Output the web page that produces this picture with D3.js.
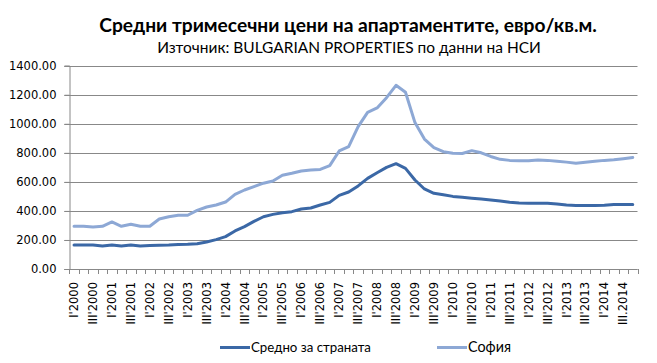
<!DOCTYPE html>
<html>
<head>
<meta charset="utf-8">
<script src="https://cdn.jsdelivr.net/npm/d3@7"></script>
<style>
  html, body { margin: 0; padding: 0; background: #fff; }
  svg { display: block; }
</style>
</head>
<body>
<svg id="chart" width="657" height="363"></svg>
<script>
const title = "Средни тримесечни цени на апартаментите, евро/кв.м.";
const subtitle = "Източник: BULGARIAN PROPERTIES по данни на НСИ";
const seriesNames = ["Средно за страната", "София"];
const years = d3.range(2000, 2015);
const romans = ["I", "II", "III", "IV"];
const quarters = [];
years.forEach(yr => romans.forEach(r => quarters.push(r + "'" + yr)));
// tick labels shown (every second quarter)
const tickLabels = quarters.map((q, i) => i === 58 ? "III.2014" : q);
const countryAvg = [165,165,165,158,165,158,165,158,162,164,
  165,168,170,174,186,202,223,262,292,328,
  360,376,388,395,413,420,441,459,507,530,
  572,624,663,700,725,693,613,551,521,512,
  500,494,488,482,475,468,460,455,453,453,
  452,447,440,438,438,438,439,444,445,445];
const sofia = [294,294,289,294,324,294,308,294,294,344,
  360,370,370,404,427,441,461,514,544,567,
  591,606,645,659,675,682,686,712,813,843,
  980,1079,1109,1180,1265,1217,1008,895,836,808,
  797,795,815,800,775,755,748,745,745,750,
  748,742,736,728,735,742,748,752,760,768];
const yTicks = [0,200,400,600,800,1000,1200,1400];
const colors = ["#3b68a6", "#8da8d5"];

const svg = d3.select("#chart");
const pLeft = 69.3, pRight = 637.5, pTop = 65.7, pBottom = 269;

const x = d3.scaleBand().domain(quarters).range([pLeft, pRight]).paddingInner(0).paddingOuter(0);
const y = d3.scaleLinear().domain([0, 1400]).range([pBottom, pTop]);

// gridlines
svg.append("g").selectAll("line").data(yTicks).join("line")
  .attr("x1", pLeft - 5).attr("x2", pRight)
  .attr("y1", d => Math.round(y(d)) + 0.5).attr("y2", d => Math.round(y(d)) + 0.5)
  .attr("stroke", "#888").attr("stroke-width", 1);

// y axis
const yAxis = svg.append("g").attr("transform", `translate(${Math.round(pLeft)+0.5},0)`)
  .call(d3.axisLeft(y).tickValues(yTicks).tickFormat(d3.format(".2f")).tickSize(5).tickPadding(8));
yAxis.select(".domain").attr("stroke", "#888");
yAxis.selectAll(".tick line").attr("stroke", "#888");
yAxis.selectAll("text").attr("font-family", "DejaVu Sans").attr("font-size", "11.5px").attr("fill", "#000");

// x axis baseline with ticks at category boundaries
const bounds = quarters.map(q => x(q)).concat([pRight]);
svg.append("line").attr("x1", pLeft).attr("x2", pRight)
  .attr("y1", Math.round(pBottom)+0.5).attr("y2", Math.round(pBottom)+0.5).attr("stroke", "#888");
svg.append("g").selectAll("line").data(bounds).join("line")
  .attr("x1", d => Math.round(d)+0.5).attr("x2", d => Math.round(d)+0.5)
  .attr("y1", Math.round(pBottom)).attr("y2", Math.round(pBottom)+5)
  .attr("stroke", "#888");

// x labels
svg.append("g").selectAll("text").data(quarters.filter((q, i) => i % 2 === 0)).join("text")
  .attr("transform", d => `translate(${x(d) + x.bandwidth()/2},282) rotate(-90)`)
  .attr("text-anchor", "end").attr("dy", "0.35em")
  .attr("font-family", "DejaVu Sans").attr("font-size", "11.5px").attr("fill", "#000")
  .text(d => tickLabels[quarters.indexOf(d)]);

// lines
const line = d3.line().x((d, i) => x(quarters[i]) + x.bandwidth()/2).y(d => y(d));
[countryAvg, sofia].forEach((s, k) => {
  svg.append("path").datum(s).attr("d", line)
    .attr("fill", "none").attr("stroke", colors[k]).attr("stroke-width", 3)
    .attr("stroke-linejoin", "round").attr("stroke-linecap", "round");
});

function fitText(sel, width) {
  const n = sel.node();
  const w = n.getComputedTextLength();
  const fs = parseFloat(sel.attr("font-size"));
  if (w > 0) sel.attr("font-size", (fs * width / w) + "px");
}

// titles
const t1 = svg.append("text").attr("x", 348).attr("y", 32).attr("text-anchor", "middle")
  .attr("font-family", "Lato").attr("font-weight", "bold").attr("font-size", 19)
  .attr("fill", "#000").text(title);
fitText(t1, 498);
const t2 = svg.append("text").attr("x", 349).attr("y", 53).attr("text-anchor", "middle")
  .attr("font-family", "Lato").attr("font-size", 16)
  .attr("fill", "#000").text(subtitle);
fitText(t2, 384);

// legend
const legX = [220, 437];
const legW = [120, 43];
seriesNames.forEach((name, k) => {
  svg.append("line").attr("x1", legX[k]).attr("x2", legX[k] + 30)
    .attr("y1", 347.5).attr("y2", 347.5).attr("stroke", colors[k]).attr("stroke-width", 3);
  const t = svg.append("text").attr("x", legX[k] + 31).attr("y", 352)
    .attr("font-family", "Lato").attr("font-size", 13.5).attr("fill", "#000").text(name);
  fitText(t, legW[k]);
});
</script>
</body>
</html>
